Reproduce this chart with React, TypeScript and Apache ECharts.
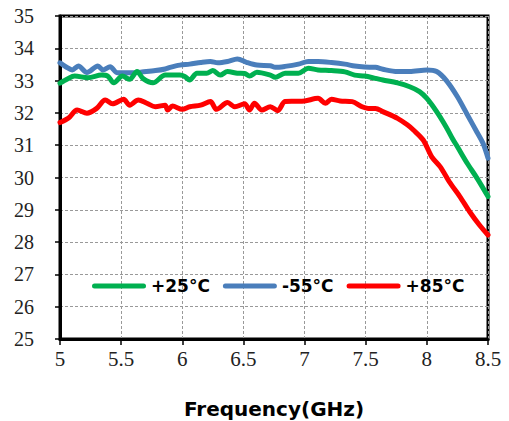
import React, { useEffect, useRef } from "react";
import * as echarts from "echarts";

const seriesNames = ["+25°C", "-55°C", "+85°C"];
const seriesColors = ["#00B050", "#4A7EBB", "#FF0000"];

const xTicks = { min: 5, max: 8.5, interval: 0.5 };
const yTicks = { min: 25, max: 35, interval: 1 };

const green25: [number, number][] = [
  [5.0, 32.92], [5.06, 33.05], [5.12, 33.14], [5.23, 33.09], [5.34, 33.17], [5.39, 33.14],
  [5.44, 32.93], [5.51, 33.14], [5.57, 33.04], [5.63, 33.28], [5.68, 33.06], [5.76, 32.93],
  [5.86, 33.17], [5.9, 33.17], [5.98, 33.17], [6.02, 33.13], [6.06, 33.02], [6.12, 33.23],
  [6.2, 33.23], [6.25, 33.31], [6.31, 33.17], [6.37, 33.28], [6.45, 33.23], [6.51, 33.22],
  [6.55, 33.14], [6.61, 33.26], [6.72, 33.17], [6.76, 33.1], [6.84, 33.23], [6.95, 33.23],
  [7.03, 33.38], [7.11, 33.33], [7.22, 33.31], [7.33, 33.27], [7.41, 33.17], [7.49, 33.14],
  [7.58, 33.07], [7.64, 33.02], [7.76, 32.93], [7.86, 32.81], [7.94, 32.66], [8.0, 32.45],
  [8.08, 32.04], [8.16, 31.55], [8.21, 31.2], [8.25, 30.95], [8.33, 30.44], [8.41, 29.98],
  [8.5, 29.41],
];

const blue55: [number, number][] = [
  [5.0, 33.55], [5.05, 33.42], [5.1, 33.33], [5.15, 33.45], [5.22, 33.25], [5.31, 33.45],
  [5.35, 33.33], [5.41, 33.43], [5.47, 33.24], [5.59, 33.24], [5.67, 33.27], [5.78, 33.31],
  [5.86, 33.36], [5.9, 33.41], [5.98, 33.48], [6.06, 33.51], [6.15, 33.56], [6.23, 33.59],
  [6.29, 33.55], [6.37, 33.59], [6.45, 33.67], [6.53, 33.56], [6.61, 33.48], [6.72, 33.46],
  [6.76, 33.41], [6.84, 33.44], [6.95, 33.51], [7.03, 33.59], [7.11, 33.59], [7.22, 33.56],
  [7.33, 33.51], [7.41, 33.45], [7.49, 33.42], [7.58, 33.41], [7.64, 33.35], [7.76, 33.28],
  [7.86, 33.28], [8.0, 33.33], [8.08, 33.28], [8.16, 33.0], [8.25, 32.5], [8.33, 31.95],
  [8.41, 31.4], [8.46, 31.05], [8.5, 30.6],
];

const red85: [number, number][] = [
  [5.0, 31.7], [5.07, 31.84], [5.14, 32.09], [5.22, 31.99], [5.3, 32.14], [5.37, 32.4],
  [5.43, 32.28], [5.52, 32.42], [5.57, 32.24], [5.64, 32.4], [5.71, 32.3], [5.78, 32.19],
  [5.86, 32.24], [5.88, 32.09], [5.92, 32.21], [6.0, 32.11], [6.06, 32.19], [6.15, 32.24],
  [6.23, 32.35], [6.28, 32.11], [6.37, 32.32], [6.43, 32.19], [6.51, 32.28], [6.55, 32.09],
  [6.59, 32.3], [6.65, 32.09], [6.72, 32.19], [6.78, 32.07], [6.84, 32.35], [6.92, 32.36],
  [7.0, 32.37], [7.11, 32.45], [7.17, 32.3], [7.22, 32.42], [7.29, 32.37], [7.39, 32.35],
  [7.47, 32.19], [7.52, 32.14], [7.58, 32.14], [7.64, 32.04], [7.76, 31.83], [7.84, 31.63],
  [7.89, 31.47], [7.97, 31.16], [8.04, 30.64], [8.11, 30.33], [8.19, 29.83], [8.27, 29.41],
  [8.35, 28.94], [8.43, 28.53], [8.5, 28.22],
];

const seriesData = [green25, blue55, red85];
const drawOrder = [1, 2, 0];

const capsule = "path://M2.5,0 L51.5,0 A2.5,2.5 0 0 1 51.5,5 L2.5,5 A2.5,2.5 0 0 1 2.5,0 Z";

export default function App() {
  const ref = useRef<HTMLDivElement>(null);
  useEffect(() => {
    if (!ref.current) return;
    const chart = echarts.init(ref.current, undefined, { renderer: "svg" });
    const gridLine = { show: true, lineStyle: { color: "#999", type: [3, 2] as any, width: 1 } };
    chart.setOption({
      animation: false,
      backgroundColor: "#fff",
      grid: {
        left: 60, top: 16, right: 21, bottom: 82,
        show: true, borderColor: "#000", borderWidth: 3,
        containLabel: false,
        outerBoundsMode: "none",
      },
      legend: {
        data: seriesNames.map((n) => ({ name: n, icon: capsule })),
        left: 92, top: 276, padding: 0,
        itemWidth: 54, itemHeight: 5, itemGap: 13,
        textStyle: { fontFamily: "DejaVu Sans", fontWeight: "bold", fontSize: 17, color: "#000", lineHeight: 20 },
      },
      xAxis: {
        type: "value",
        min: xTicks.min, max: xTicks.max, interval: xTicks.interval,
        name: "Frequency(GHz)",
        nameLocation: "middle",
        nameGap: 60,
        nameTextStyle: { fontFamily: "DejaVu Sans", fontWeight: "bold", fontSize: 20, color: "#000", lineHeight: 20 },
        axisLine: { show: true, lineStyle: { color: "#000", width: 3 } },
        axisTick: { show: true, length: 6, lineStyle: { color: "#000", width: 1.5 } },
        axisLabel: { fontFamily: "Liberation Serif", fontSize: 21, color: "#222", margin: 9 },
        splitLine: gridLine,
      },
      yAxis: {
        type: "value",
        min: yTicks.min, max: yTicks.max, interval: yTicks.interval,
        axisLine: { show: true, lineStyle: { color: "#000", width: 3 } },
        axisTick: { show: true, length: 5, lineStyle: { color: "#000", width: 1.5 } },
        axisLabel: { fontFamily: "Liberation Serif", fontSize: 20, color: "#222", margin: 26 },
        splitLine: gridLine,
      },
      series: drawOrder.map((i) => ({
        name: seriesNames[i],
        type: "line",
        data: seriesData[i],
        symbol: "none",
        smooth: 0.3,
        color: seriesColors[i],
        itemStyle: { color: seriesColors[i] },
        lineStyle: { color: seriesColors[i], width: 5, cap: "round", join: "round" },
        clip: true,
      })),
    });
    return () => chart.dispose();
  }, []);
  return <div ref={ref} style={{ width: 509, height: 421, position: "absolute", left: 0, top: 0 }} />;
}
